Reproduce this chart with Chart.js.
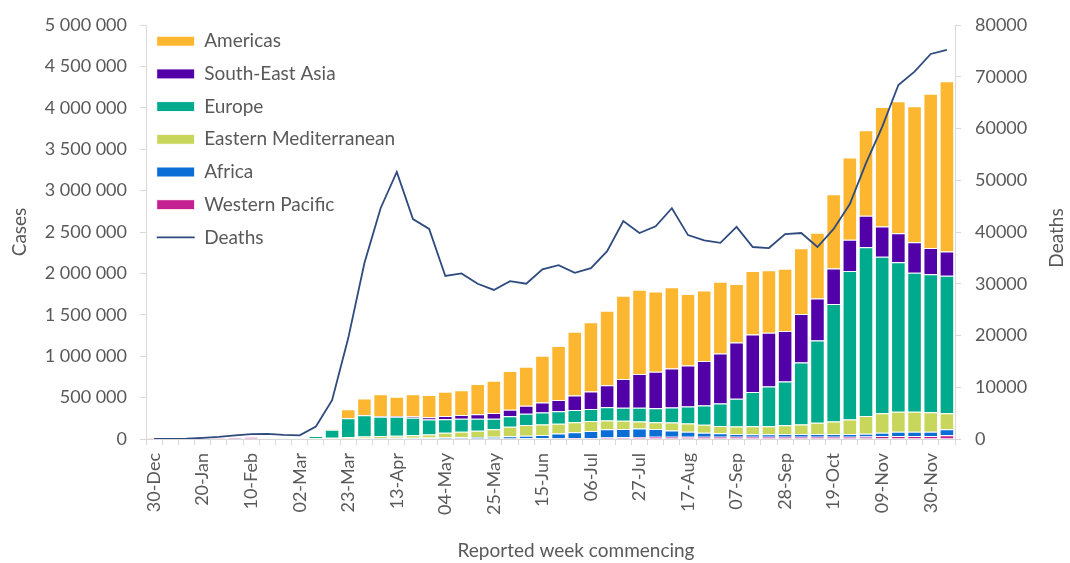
<!DOCTYPE html>
<html>
<head>
<meta charset="utf-8">
<title>Weekly cases and deaths by region</title>
<script src="https://cdn.jsdelivr.net/npm/chart.js@4.4.0/dist/chart.umd.min.js"></script>
<style>
  html, body { margin: 0; padding: 0; background: #fff; }
  #wrap { width: 1070px; height: 563px; position: relative; }
</style>
</head>
<body>
<div id="wrap"><canvas id="chart"></canvas></div>
<script>
// weeks (reported week commencing), 30-Dec-2019 .. 07-Dec-2020
const weeks = ['30-Dec', '06-Jan', '13-Jan', '20-Jan', '27-Jan', '03-Feb', '10-Feb', '17-Feb', '24-Feb', '02-Mar',
    '09-Mar', '16-Mar', '23-Mar', '30-Mar', '06-Apr', '13-Apr', '20-Apr', '27-Apr', '04-May', '11-May',
    '18-May', '25-May', '01-Jun', '08-Jun', '15-Jun', '22-Jun', '29-Jun', '06-Jul', '13-Jul', '20-Jul',
    '27-Jul', '03-Aug', '10-Aug', '17-Aug', '24-Aug', '31-Aug', '07-Sep', '14-Sep', '21-Sep', '28-Sep',
    '05-Oct', '12-Oct', '19-Oct', '26-Oct', '02-Nov', '09-Nov', '16-Nov', '23-Nov', '30-Nov', '07-Dec'];

// weekly cases per region
const westernPacific = [100, 100, 200, 2000, 12000, 20000, 22000, 8000, 4000, 5000,
    5000, 5000, 5000, 6000, 7000, 8000, 8000, 8000, 7000, 6000,
    6000, 6000, 7000, 8000, 9000, 10000, 11000, 13000, 18000, 20000,
    25000, 28000, 28000, 26000, 28000, 28000, 28000, 28000, 28000, 28000,
    28000, 28000, 28000, 28000, 30000, 36000, 36000, 36000, 36000, 44000];
const africa = [0, 0, 0, 0, 0, 0, 0, 0, 0, 20,
    100, 300, 1000, 3000, 5000, 6000, 7000, 9000, 12000, 15000,
    18000, 20000, 25000, 30000, 40000, 55000, 70000, 85000, 100000, 100000,
    103000, 93000, 75000, 62000, 48000, 40000, 32000, 30000, 30000, 32000,
    32000, 32000, 32000, 32000, 32000, 40000, 53000, 53000, 53000, 73000];
const easternMed = [0, 0, 0, 0, 0, 0, 0, 0, 100, 3000,
    6000, 10000, 15000, 20000, 22000, 26000, 30000, 37000, 57000, 68000,
    75000, 93000, 117000, 132000, 125000, 120000, 120000, 120000, 105000, 100000,
    82000, 80000, 95000, 100000, 95000, 90000, 90000, 95000, 95000, 105000,
    115000, 135000, 150000, 175000, 215000, 234000, 241000, 241000, 233000, 193000];
const europe = [0, 0, 0, 0, 0, 0, 0, 0, 1000, 3000,
    24000, 95000, 231000, 257000, 234000, 228000, 211000, 180000, 162000, 155000,
    145000, 126000, 127000, 134000, 146000, 151000, 150000, 145000, 160000, 158000,
    168000, 169000, 182000, 205000, 235000, 270000, 335000, 415000, 480000, 530000,
    750000, 995000, 1420000, 1795000, 2040000, 1892000, 1804000, 1679000, 1667000, 1663000];
const southEastAsia = [0, 0, 0, 0, 0, 0, 0, 0, 0, 0,
    0, 500, 2000, 5000, 7000, 10000, 15000, 28000, 40000, 46000,
    56000, 69000, 76000, 97000, 121000, 135000, 175000, 210000, 265000, 347000,
    407000, 443000, 472000, 495000, 535000, 605000, 680000, 695000, 650000, 608000,
    585000, 507000, 430000, 375000, 380000, 363000, 350000, 366000, 318000, 290000];
const americas = [0, 0, 0, 0, 0, 0, 0, 0, 0, 100,
    1000, 8000, 106000, 198000, 266000, 233000, 268000, 269000, 294000, 298000,
    364000, 391000, 469000, 473000, 565000, 652000, 769000, 837000, 902000, 1006000,
    1017000, 969000, 980000, 863000, 851000, 867000, 707000, 766000, 754000, 754000,
    793000, 795000, 895000, 995000, 1033000, 1445000, 1596000, 1645000, 1863000, 2057000];

// weekly deaths (right axis)
const deaths = [0, 0, 50, 200, 400, 700, 950, 1000, 800, 700,
    2400, 7500, 19500, 34000, 44600, 51600, 42500, 40600, 31500, 32000,
    30000, 28800, 30500, 30000, 32800, 33600, 32100, 33000, 36300, 42100,
    39800, 41100, 44600, 39400, 38400, 37900, 41000, 37100, 36900, 39600,
    39800, 37100, 40600, 45400, 53300, 60300, 68400, 71000, 74400, 75200];

const legendOrder = ['Americas', 'South-East Asia', 'Europe', 'Eastern Mediterranean', 'Africa', 'Western Pacific', 'Deaths'];

const textColor = '#595959';
const axisColor = '#d9d9d9';
const fontFamily = 'Lato, "Open Sans", sans-serif';

function barSet(label, data, color) {
    return {
        type: 'bar',
        label: label,
        data: data,
        yAxisID: 'y',
        backgroundColor: color,
        borderColor: '#ffffff',
        borderWidth: 1,
        barPercentage: 0.9,
        categoryPercentage: 1.0,
        pointStyle: 'rect',
        order: 1
    };
}

function spaced(v) {
    return String(v).replace(/\B(?=(\d{3})+(?!\d))/g, ' ');
}

// x title and the right-hand title (which reads bottom-to-top)
const extraTitles = {
    id: 'extraTitles',
    afterDraw(chart) {
        const ctx = chart.ctx;
        const area = chart.chartArea;
        ctx.save();
        ctx.fillStyle = textColor;
        ctx.font = '19px ' + fontFamily;
        ctx.textAlign = 'center';
        ctx.textBaseline = 'middle';
        ctx.fillText('Reported week commencing', 576, 551);
        ctx.translate(1057, (area.top + area.bottom) / 2 + 6);
        ctx.rotate(-Math.PI / 2);
        ctx.fillText('Deaths', 0, 0);
        ctx.restore();
    }
};

// legend sits inside the plot, top-left
const legendNudge = {
    id: 'legendNudge',
    afterLayout(chart) {
        if (chart.legend) {
            chart.legend.left -= 3;
            chart.legend.top += 18;
        }
    }
};

new Chart(document.getElementById('chart'), {
    data: {
        labels: weeks,
        datasets: [
            barSet('Western Pacific', westernPacific, '#C4208F'),
            barSet('Africa', africa, '#0A6ED6'),
            barSet('Eastern Mediterranean', easternMed, '#C8D65B'),
            barSet('Europe', europe, '#00AB8D'),
            barSet('South-East Asia', southEastAsia, '#5200A8'),
            barSet('Americas', americas, '#FDB62F'),
            {
                type: 'line',
                label: 'Deaths',
                data: deaths,
                yAxisID: 'y1',
                borderColor: '#2E4A7E',
                backgroundColor: '#2E4A7E',
                borderWidth: 1.8,
                pointRadius: 0,
                pointStyle: 'line',
                tension: 0,
                fill: false,
                order: 0
            }
        ]
    },
    options: {
        responsive: true,
        maintainAspectRatio: false,
        animation: false,
        layout: { padding: { top: 25, left: 0, right: 0, bottom: 0 } },
        plugins: {
            tooltip: { enabled: false },
            legend: {
                position: 'chartArea',
                align: 'start',
                labels: {
                    usePointStyle: true,
                    pointStyleWidth: 38,
                    boxHeight: 10,
                    padding: 13.7,
                    color: textColor,
                    font: { family: fontFamily, size: 19 },
                    sort: (a, b) => legendOrder.indexOf(a.text) - legendOrder.indexOf(b.text)
                }
            }
        },
        scales: {
            x: {
                stacked: true,
                offset: true,
                grid: { display: true, drawOnChartArea: false, drawTicks: true, tickLength: 6, color: axisColor, offset: true },
                border: { display: true, color: axisColor },
                ticks: {
                    autoSkip: false,
                    minRotation: 90,
                    maxRotation: 90,
                    padding: 8,
                    color: textColor,
                    font: { family: fontFamily, size: 18 },
                    callback: (v, i) => (i % 3 === 0 ? weeks[i] : '')
                },
                afterFit: (scale) => { scale.height = 124; }
            },
            y: {
                stacked: true,
                position: 'left',
                min: 0,
                max: 5000000,
                grid: { display: true, drawOnChartArea: false, drawTicks: true, tickLength: 6, color: axisColor },
                border: { display: true, color: axisColor },
                ticks: {
                    stepSize: 500000,
                    padding: 13,
                    color: textColor,
                    font: { family: fontFamily, size: 18 },
                    callback: (v) => spaced(v)
                },
                title: {
                    display: true,
                    text: 'Cases',
                    color: textColor,
                    font: { family: fontFamily, size: 19 },
                    padding: { top: 8, bottom: 0 }
                },
                afterFit: (scale) => { scale.width = 146; }
            },
            y1: {
                position: 'right',
                min: 0,
                max: 80000,
                grid: { display: true, drawOnChartArea: false, drawTicks: true, tickLength: 6, color: axisColor },
                border: { display: true, color: axisColor },
                ticks: {
                    stepSize: 10000,
                    padding: 14,
                    color: textColor,
                    font: { family: fontFamily, size: 18 },
                    callback: (v) => String(v)
                },
                afterFit: (scale) => { scale.width = 115; }
            }
        }
    },
    plugins: [legendNudge, extraTitles]
});
</script>
</body>
</html>
